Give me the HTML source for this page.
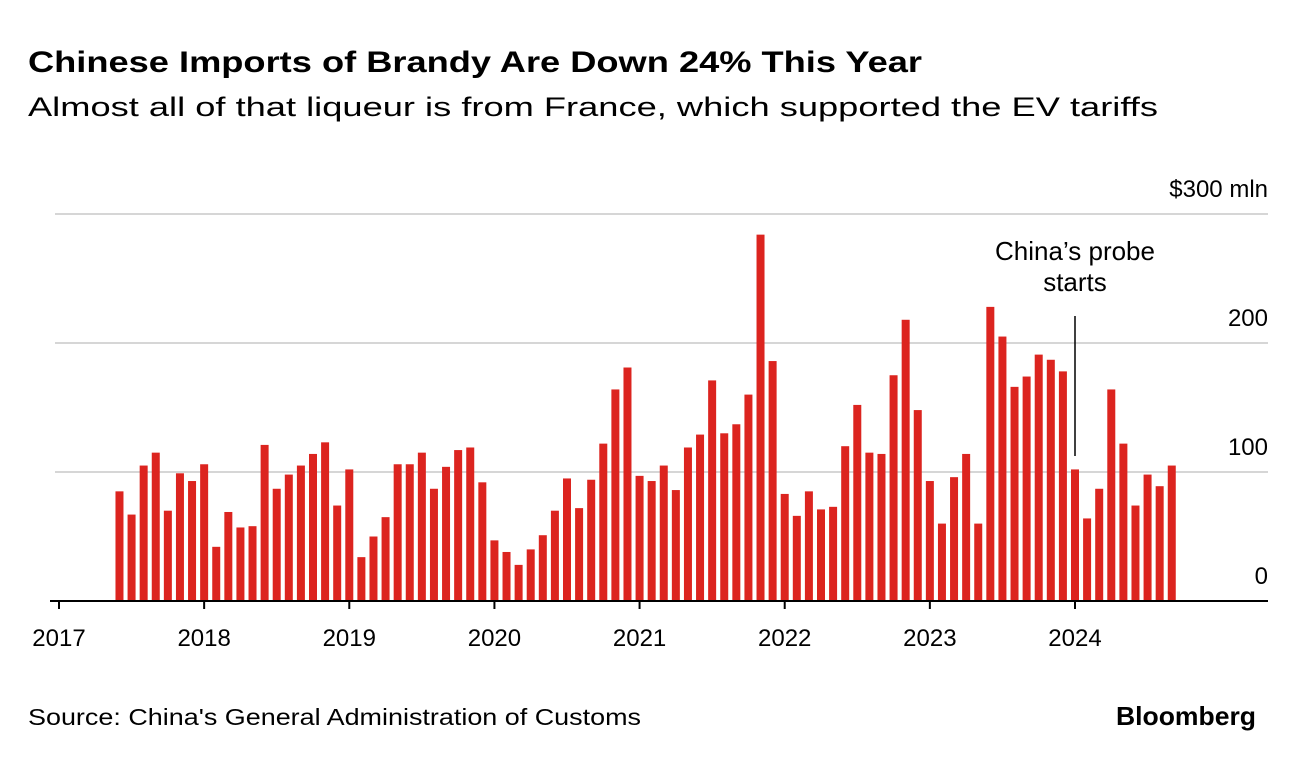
<!DOCTYPE html>
<html><head><meta charset="utf-8"><style>
body{margin:0;background:#fff;font-family:"Liberation Sans",sans-serif;}
svg{display:block}
</style></head><body>
<svg width="1296" height="758" xmlns="http://www.w3.org/2000/svg">
<text x="28" y="72" font-size="30" font-weight="bold" fill="#000" textLength="894" lengthAdjust="spacingAndGlyphs">Chinese Imports of Brandy Are Down 24% This Year</text>
<text x="28" y="116" font-size="27" fill="#000" textLength="1130" lengthAdjust="spacingAndGlyphs">Almost all of that liqueur is from France, which supported the EV tariffs</text>
<g id="grid"></g><g id="bars"></g><g id="axis"></g>
<line x1="1075" y1="316" x2="1075" y2="456" stroke="#000" stroke-width="1.5"/>
<text x="1075" y="260" font-size="26" text-anchor="middle"><tspan x="1075">China’s probe</tspan><tspan x="1075" dy="31">starts</tspan></text>
<text x="28" y="725" font-size="23" fill="#000" textLength="613" lengthAdjust="spacingAndGlyphs">Source: China's General Administration of Customs</text>
<text x="1256" y="725" font-size="26" font-weight="bold" text-anchor="end" textLength="140" lengthAdjust="spacingAndGlyphs">Bloomberg</text>
</svg>
<script>
const startYear = 2017, startMonth = 5;
const values = [85,67,105,115,70,99,93,
106,42,69,57,58,121,87,98,105,114,123,74,
102,34,50,65,106,106,115,87,104,117,119,92,
47,38,28,40,51,70,95,72,94,122,164,181,
97,93,105,86,119,129,171,130,137,160,284,186,
83,66,85,71,73,120,152,115,114,175,218,148,
93,60,96,114,60,228,205,166,174,191,187,178,
102,64,87,164,122,74,98,89,105];
const yTicks = [0,100,200,300];
const yTickLabels = ["0","100","200","$300 mln"];
const xYears = [2017,2018,2019,2020,2021,2022,2023,2024];
const NS="http://www.w3.org/2000/svg";
const y = v => 601 - v*1.29;
const x = m => 59 + m*(1016/84);
function mk(tag, attrs, parent){const e=document.createElementNS(NS,tag);for(const k in attrs)e.setAttribute(k,attrs[k]);parent.appendChild(e);return e;}
const grid=document.getElementById('grid'), bars=document.getElementById('bars'), axis=document.getElementById('axis');
yTicks.forEach((t,i)=>{
  if(t>0){const l=mk('line',{x1:55,x2:1268,y1:y(t),y2:y(t),stroke:'#d6d6d6','stroke-width':2},grid);
  
  }
  const tx=mk('text',{x:1268,y:y(t)-17,'font-size':24,'text-anchor':'end'},grid);
  tx.textContent=yTickLabels[i];
  
  
});
values.forEach((v,i)=>{
  const cx=x(startMonth+i);
  const r=mk('rect',{x:cx-4,y:y(v),width:8,height:601-y(v),fill:'#dc241f'},bars);
  
  
});
const ax=mk('line',{x1:50,x2:1268,y1:601,y2:601,stroke:'#000','stroke-width':2},axis);


xYears.forEach(yr=>{
  const px=x((yr-startYear)*12);
  const tk=mk('line',{x1:px,x2:px,y1:601,y2:609,stroke:'#000','stroke-width':2},axis);
  
  
  const t=mk('text',{x:px,y:646,'font-size':24,'text-anchor':'middle'},axis);
  t.textContent=yr;
  
  
});
</script>
</body></html>
